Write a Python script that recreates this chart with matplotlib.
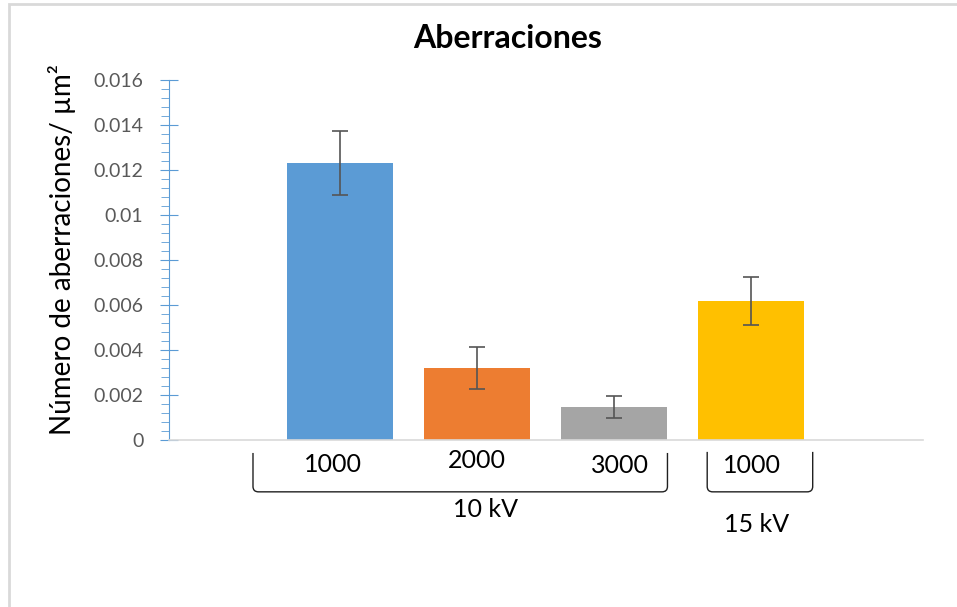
import matplotlib.pyplot as plt
from matplotlib.path import Path
from matplotlib.patches import PathPatch, Rectangle
from matplotlib.ticker import MultipleLocator
import numpy as np

# datos
etiquetas = ['1000', '2000', '3000', '1000']
valores = [0.01231, 0.00320, 0.00147, 0.00618]
errores = [0.00142, 0.00093, 0.00047, 0.00105]
colores = ['#5B9BD5', '#ED7D31', '#A5A5A5', '#FFC000']
grupos = ['10 kV', '15 kV']

plt.rcParams['font.family'] = ['Lato', 'DejaVu Sans']

fig = plt.figure(figsize=(9.57, 6.07), dpi=100)
ax = fig.add_axes([169/957, 167/607, 754/957, 360/607])

pos = np.arange(len(valores))
ax.bar(pos, valores, width=0.78, color=colores, zorder=2)
ax.errorbar(pos, valores, yerr=errores, fmt='none', ecolor='#555555',
            elinewidth=1.2, capsize=6, capthick=1.2, zorder=3)

ax.set_xlim(-1.248, 4.255)
ax.set_ylim(0, 0.016)
ax.yaxis.set_minor_locator(MultipleLocator(0.0004))
ax.set_yticks(np.arange(0, 0.0161, 0.002))
ax.set_yticklabels(['0', '0.002', '0.004', '0.006', '0.008', '0.01',
                    '0.012', '0.014', '0.016'])
ax.tick_params(axis='y', which='major', direction='inout', length=13,
               color='#5B9BD5', labelsize=14, labelcolor='#595959', pad=12)
ax.tick_params(axis='y', which='minor', direction='out', length=6,
               color='#5B9BD5')
ax.set_xticks([])

for s in ['top', 'right']:
    ax.spines[s].set_visible(False)
ax.spines['left'].set_color('#5B9BD5')
ax.spines['bottom'].set_color('#D9D9D9')
ax.spines['bottom'].set_linewidth(1.2)

ax.set_ylabel('Número de aberraciones/ µm²', fontsize=20, va='center')
ax.yaxis.set_label_coords(-0.142, 0.53)
fig.text(508/957, 1 - 39/607, 'Aberraciones', fontsize=23,
         fontweight='bold', ha='center', va='center')

# etiquetas de categoria
dy = [-0.067, -0.058, -0.072, -0.072]
dx = [-0.05, 0.0, 0.04, 0.01]
for p, t, d, e in zip(pos, etiquetas, dy, dx):
    ax.text(p + e, d, t, transform=ax.get_xaxis_transform(), ha='center',
            va='center', fontsize=18)

# llaves de grupo
def llave(x0, x1, ytop, ybot):
    r = 0.04
    verts = [(x0, ytop), (x0, ybot + 0.015), (x0, ybot), (x0 + r, ybot),
             (x1 - r, ybot), (x1, ybot), (x1, ybot + 0.015), (x1, ytop)]
    codes = [Path.MOVETO, Path.LINETO, Path.CURVE3, Path.CURVE3,
             Path.LINETO, Path.CURVE3, Path.CURVE3, Path.LINETO]
    ax.add_patch(PathPatch(Path(verts, codes), fill=False, lw=1.0,
                           ec='#202020', transform=ax.get_xaxis_transform(),
                           clip_on=False))

llave(pos[0] - 0.635, pos[2] + 0.39, -0.036, -0.144)
llave(pos[3] - 0.32, pos[3] + 0.45, -0.033, -0.144)

ax.text(pos[1] + 0.06, -0.194, grupos[0], transform=ax.get_xaxis_transform(),
        ha='center', va='center', fontsize=18)
ax.text(pos[3] + 0.04, -0.236, grupos[1], transform=ax.get_xaxis_transform(),
        ha='center', va='center', fontsize=18)

# marco
fig.add_artist(Rectangle((9/957, -0.1), 1.2, (603/607) + 0.1,
                         transform=fig.transFigure, fill=False,
                         ec='#D9D9D9', lw=2))

fig.savefig('out.png', dpi=100)
